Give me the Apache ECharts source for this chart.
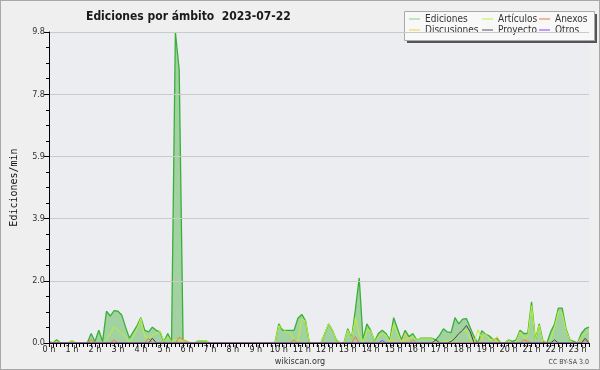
<!DOCTYPE html>
<html>
<head>
<meta charset="utf-8">
<script src="https://cdn.jsdelivr.net/npm/echarts@6/dist/echarts.min.js"></script>
<style>
    html, body { margin: 0; padding: 0; background: #efefef; }
    #chart { width: 600px; height: 370px; box-sizing: border-box; border: 1px solid #a8a8a8; }
</style>
</head>
<body>
<div id="chart"></div>
<script>
// one value every 10 minutes, starting 0:00
var ediciones = [0.05,0,0.1,0,0,0,0.07,0,0,0,0,0.3,0.05,0.4,0.05,1.0,0.85,1.02,1.0,0.88,
    0.5,0.15,0.35,0.55,0.8,0.4,0.35,0.5,0.4,0.35,0.05,0.3,0.05,9.8,8.6,0.1,0.05,0,0,0.07,
    0.07,0.07,0,0,0,0,0,0,0,0,0,0,0,0,0,0,0,0,0,0,
    0.6,0.4,0.4,0.4,0.4,0.78,0.9,0.7,0,0,0,0,0.3,0.6,0.4,0.1,0,0,0.45,0.15,
    1.05,2.05,0.1,0.6,0.4,0.05,0.3,0.4,0.3,0.1,0.8,0.45,0.1,0.4,0.2,0.3,0.1,0.15,0.15,0.15,
    0.15,0.1,0.25,0.45,0.35,0.33,0.8,0.6,0.75,0.77,0.48,0.2,0,0.39,0.28,0.22,0.1,0.15,0,0,
    0.1,0.05,0.1,0.4,0.3,0.3,1.3,0.1,0.6,0.05,0,0.35,0.6,1.1,1.1,0.45,0.1,0.05,0,0.3,
    0.45,0.5];
var articulos = [0,0,0.05,0,0,0,0.07,0,0,0,0,0,0,0,0,0.1,0.3,0.5,0.4,0.3,
    0.2,0.02,0.2,0.45,0.78,0.2,0.15,0.25,0.3,0.38,0.05,0.2,0.05,0.1,0.1,0.1,0.05,0,0,0.07,
    0.07,0.07,0,0,0,0,0,0,0,0,0,0,0,0,0,0,0,0,0,0,
    0.55,0.45,0.35,0.3,0.1,0.05,0.75,0.7,0,0,0,0,0.3,0.6,0.4,0.1,0,0,0.4,0.15,
    0.8,0.25,0.05,0.4,0.4,0.05,0.2,0.3,0.25,0.05,0.6,0.3,0.05,0.1,0.15,0.2,0.1,0.15,0.15,0.15,
    0.15,0,0,0.05,0.05,0.1,0.15,0.3,0.4,0.4,0.1,0,0.42,0.15,0.3,0.1,0.12,0.05,0,0,
    0.1,0,0.05,0.35,0.15,0.2,1.17,0.1,0.56,0,0,0.1,0.5,1.0,0.95,0.4,0.1,0,0,0.2,
    0.3,0.4];
// sparse series: [index, value]
var anexos = [[11,0.1],[17,0.1],[26,0.15],[34,0.18],[35,0.1],[64,0.1],[80,0.2],[95,0.1],[124,0.1],[125,0.05],[140,0.08]];
var discusiones = [[0,0.05],[35,0.1],[90,0.1],[93,0.3],[113,0.15],[117,0.2],[129,0.1]];
var proyecto = [[27,0.15],[101,0.1],[105,0.05],[106,0.15],[107,0.3],[108,0.4],[109,0.55],[110,0.35],[132,0.1],[140,0.15]];
var otros = [[87,0.08]];

var nPoints = ediciones.length;
var yMax = 9.8;
var FONT = "'DejaVu Sans Condensed', 'DejaVu Sans', sans-serif";

function toPairs(arr) {
    return arr.map(function (v, i) { return [i / 6, v]; });
}
function sparse(list) {
    var out = [];
    for (var i = 0; i < nPoints; i++) out.push(0);
    list.forEach(function (p) { out[p[0]] = p[1]; });
    return toPairs(out);
}

function lineSeries(name, color, data) {
    return {
        name: name,
        type: 'line',
        showSymbol: false,
        symbol: 'none',
        lineStyle: {color: color, width: 1},
        itemStyle: {color: color},
        data: data
    };
}

function legendCol(left, items) {
    return {
        left: left, top: 12, padding: 0, orient: 'vertical', itemGap: -1, itemWidth: 11, itemHeight: 1, icon: 'rect',
        textStyle: {fontFamily: FONT, fontSize: 10, color: '#333', lineHeight: 12},
        data: items
    };
}

var chart = echarts.init(document.getElementById('chart'));

var option = {
    backgroundColor: '#efefef',
    animation: false,
    title: {
        text: 'Ediciones por ámbito  2023-07-22',
        left: 80,
        top: 5,
        textStyle: {fontFamily: FONT, fontSize: 12, fontWeight: 'bold', color: '#1a1a1a'}
    },
    graphic: [
        {type: 'rect', left: 406, top: 13, shape: {width: 190, height: 29}, style: {fill: '#555'}, z: 0},
        {type: 'rect', left: 403, top: 10, shape: {width: 190, height: 29}, style: {fill: '#f8f8f8', stroke: '#aaa', lineWidth: 1}, z: 1},
        {type: 'text', left: 'center', top: 356, style: {text: 'wikiscan.org', font: "9px 'DejaVu Sans Condensed', 'DejaVu Sans', sans-serif", fill: '#333'}},
        {type: 'text', right: 10, top: 358, style: {text: 'CC BY-SA 3.0', font: "7px 'DejaVu Sans Condensed', 'DejaVu Sans', sans-serif", fill: '#444'}}
    ],
    legend: [
        legendCol(408, [{name: 'Ediciones', itemStyle: {color: '#88d088'}}, {name: 'Discusiones', itemStyle: {color: '#f0d040'}}]),
        legendCol(481, [{name: 'Artículos', itemStyle: {color: '#c0f040'}}, {name: 'Proyecto', itemStyle: {color: '#555555'}}]),
        legendCol(538, [{name: 'Anexos', itemStyle: {color: '#f07838'}}, {name: 'Otros', itemStyle: {color: '#8844ee'}}])
    ],
    grid: {
        left: 46, right: 10, top: 31, bottom: 26,
        show: true, backgroundColor: '#ecedf0', borderWidth: 0
    },
    xAxis: {
        type: 'value',
        min: 0,
        max: (nPoints - 1) / 6,
        interval: 1,
        z: 10,
        axisLine: {lineStyle: {color: '#000', width: 1}},
        axisTick: {length: 4, lineStyle: {color: '#000'}},
        minorTick: {show: true, splitNumber: 6, length: 4, lineStyle: {color: '#000'}},
        splitLine: {show: false},
        axisLabel: {
            fontFamily: FONT, fontSize: 9, color: '#222', margin: 2, showMaxLabel: false,
            formatter: function (v) { return Math.abs(v - Math.round(v)) < 1e-6 ? Math.round(v) + ' h' : ''; }
        }
    },
    yAxis: {
        type: 'value',
        min: 0,
        max: yMax,
        interval: yMax / 5,
        z: 10,
        name: 'Ediciones/min',
        nameLocation: 'middle',
        nameGap: 30,
        nameTextStyle: {fontFamily: "'DejaVu Sans Mono', monospace", fontSize: 10, color: '#111'},
        axisLine: {show: true, lineStyle: {color: '#000', width: 1}},
        axisTick: {show: true, length: 5, lineStyle: {color: '#000'}},
        minorTick: {show: true, splitNumber: 4, length: 3, lineStyle: {color: '#000'}},
        splitLine: {lineStyle: {color: '#cacaca'}},
        axisLabel: {
            fontFamily: FONT, fontSize: 9, color: '#333', margin: 4,
            formatter: function (v) { return v.toFixed(1); }
        }
    },
    series: [
        {
            name: 'Ediciones',
            type: 'line',
            showSymbol: false,
            symbol: 'none',
            lineStyle: {color: '#38b038', width: 1.3},
            itemStyle: {color: '#88d088'},
            areaStyle: {color: '#a2d2a2', opacity: 1},
            data: toPairs(ediciones)
        },
        lineSeries('Artículos', '#bff030', toPairs(articulos)),
        lineSeries('Anexos', '#f07838', sparse(anexos)),
        lineSeries('Discusiones', '#f0c840', sparse(discusiones)),
        lineSeries('Proyecto', '#444444', sparse(proyecto)),
        lineSeries('Otros', '#8844ee', sparse(otros))
    ]
};

chart.setOption(option);
</script>
</body>
</html>
